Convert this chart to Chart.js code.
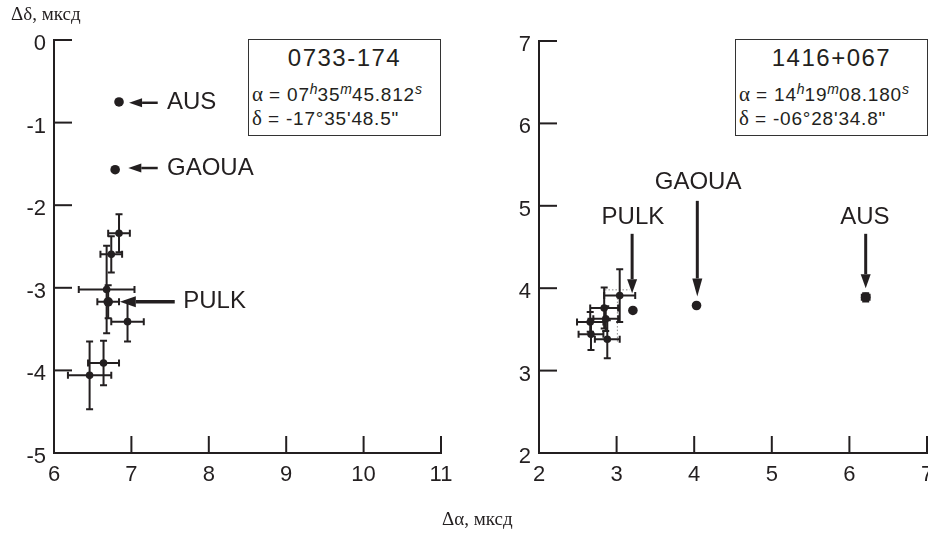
<!DOCTYPE html>
<html><head><meta charset="utf-8">
<script src="https://cdn.jsdelivr.net/npm/chart.js@4/dist/chart.umd.min.js"></script>
<style>
html,body{margin:0;padding:0;background:#fff}
body{width:928px;height:534px;overflow:hidden;position:relative;font-family:"Liberation Sans",Arial,sans-serif;color:#231f20}
canvas{position:absolute;top:0}
#c1{left:0}
#c2{left:464px}
.box{position:absolute;box-sizing:border-box;border:1px solid #333;background:#fff}
.box .t{position:absolute;left:0;right:0;top:5px;text-align:center;font-size:24px;line-height:26px;letter-spacing:1.5px}
.box .l{position:absolute;left:3px;font-size:19px;line-height:20px;white-space:nowrap;letter-spacing:0.8px}
.g{font-family:"Liberation Serif","DejaVu Serif",serif;font-size:21px;letter-spacing:0}
.box sup{font-style:italic;font-size:14px;vertical-align:7px;line-height:0;letter-spacing:0}
.ttl{position:absolute;font-family:"Liberation Serif","DejaVu Serif",serif;font-size:19px;white-space:nowrap}
</style>
</head><body>
<canvas id="c1" width="464" height="534"></canvas>
<canvas id="c2" width="480" height="534"></canvas>

<div class="box" style="left:248px;top:39px;width:193px;height:97px">
  <div class="t">0733-174</div>
  <div class="l" style="top:44px"><span class="g">α</span> = 07<sup>h</sup>35<sup>m</sup>45.812<sup>s</sup></div>
  <div class="l" style="top:68px"><span class="g">δ</span> = -17°35'48.5"</div>
</div>
<div class="box" style="left:735px;top:39px;width:193px;height:97px">
  <div class="t">1416+067</div>
  <div class="l" style="top:44px"><span class="g">α</span> = 14<sup>h</sup>19<sup>m</sup>08.180<sup>s</sup></div>
  <div class="l" style="top:68px"><span class="g">δ</span> = -06°28'34.8"</div>
</div>
<div class="ttl" style="left:11px;top:3px">Δδ, мксд</div>
<div class="ttl" style="left:442px;top:508px">Δα, мксд</div>

<script>
// ---- Left panel: 0733-174 ----
const leftXTicks = [6, 7, 8, 9, 10, 11];
const leftYTicks = [-5, -4, -3, -2, -1, 0];
const leftClusterX    = [6.84, 6.74, 6.68, 6.95, 6.64, 6.46];
const leftClusterY    = [-2.34, -2.595, -3.02, -3.41, -3.91, -4.06];
const leftClusterXErr = [0.14, 0.14, 0.36, 0.21, 0.20, 0.28];
const leftClusterYErr = [0.23, 0.22, 0.53, 0.24, 0.27, 0.41];
const leftStations    = ['AUS', 'GAOUA', 'PULK'];
const leftStationX    = [6.84, 6.79, 6.70];
const leftStationY    = [-0.75, -1.57, -3.17];
const leftStationXErr = [0, 0, 0.14];
const leftStationYErr = [0, 0, 0.20];
const leftArrowTail   = [[7.34, -0.76], [7.34, -1.55], [7.56, -3.17]];
const leftArrowTip    = [[6.97, -0.76], [6.96, -1.55], [6.85, -3.17]];
const leftLabelPos    = [[7.46, -0.76], [7.46, -1.55], [7.67, -3.17]];

// ---- Right panel: 1416+067 ----
const rightXTicks = [2, 3, 4, 5, 6, 7];
const rightYTicks = [2, 3, 4, 5, 6, 7];
const rightClusterX    = [3.04, 2.84, 2.86, 2.66, 2.67, 2.88];
const rightClusterY    = [3.91, 3.76, 3.63, 3.59, 3.44, 3.38];
const rightClusterXErr = [0.20, 0.18, 0.16, 0.17, 0.16, 0.16];
const rightClusterYErr = [0.32, 0.25, 0.15, 0.12, 0.19, 0.23];
const rightStations    = ['PULK', 'GAOUA', 'AUS'];
const rightStationX    = [3.21, 4.03, 6.21];
const rightStationY    = [3.73, 3.79, 3.89];
const rightStationXErr = [0, 0, 0.05];
const rightStationYErr = [0, 0, 0.05];
const rightArrowTail   = [[3.20, 4.66], [4.04, 5.06], [6.21, 4.66]];
const rightArrowTip    = [[3.20, 3.94], [4.04, 3.90], [6.21, 4.00]];
const rightLabelPos    = [[3.21, 4.86], [4.05, 5.28], [6.20, 4.86]];
const rightDottedX     = [2.85, 3.17];
const rightDottedY     = [3.98, 3.98];
const rightDotted2X    = [3.01, 3.01];
const rightDotted2Y    = [3.88, 3.35];

const INK = '#231f20';
const zip = (xs, ys) => xs.map((x, i) => ({x, y: ys[i]}));

const extraPlugin = {
  id: 'extra',
  afterDatasetsDraw(chart) {
    const o = chart.options.plugins.extra;
    const ctx = chart.ctx, xs = chart.scales.x, ys = chart.scales.y, ca = chart.chartArea;
    const X = v => xs.getPixelForValue(v), Y = v => ys.getPixelForValue(v);
    ctx.save();
    ctx.strokeStyle = INK; ctx.fillStyle = INK; ctx.lineCap = 'butt';
    ctx.lineWidth = 2;
    o.xTicks.forEach(t => { const p = X(t); ctx.beginPath(); ctx.moveTo(p, ca.bottom); ctx.lineTo(p, ca.bottom - 17); ctx.stroke(); });
    o.yTicks.forEach(t => { const p = Y(t); ctx.beginPath(); ctx.moveTo(ca.left, p); ctx.lineTo(ca.left + 18, p); ctx.stroke(); });
    o.errors.forEach(e => {
      e.x.forEach((xv, i) => {
        const px = X(xv), py = Y(e.y[i]);
        const dx = e.xe[i], dy = e.ye[i];
        ctx.lineWidth = 2;
        if (dx > 0) {
          const a = X(xv - dx), b = X(xv + dx);
          ctx.beginPath(); ctx.moveTo(a, py); ctx.lineTo(b, py);
          ctx.moveTo(a, py - 3.5); ctx.lineTo(a, py + 3.5);
          ctx.moveTo(b, py - 3.5); ctx.lineTo(b, py + 3.5); ctx.stroke();
        }
        if (dy > 0) {
          const a = Y(e.y[i] - dy), b = Y(e.y[i] + dy);
          ctx.beginPath(); ctx.moveTo(px, a); ctx.lineTo(px, b);
          ctx.moveTo(px - 3.5, a); ctx.lineTo(px + 3.5, a);
          ctx.moveTo(px - 3.5, b); ctx.lineTo(px + 3.5, b); ctx.stroke();
        }
      });
    });
    o.arrows.forEach(a => {
      const x1 = X(a.tail[0]), y1 = Y(a.tail[1]), x2 = X(a.tip[0]), y2 = Y(a.tip[1]);
      const ang = Math.atan2(y2 - y1, x2 - x1);
      const bx = x2 - a.head * Math.cos(ang), by = y2 - a.head * Math.sin(ang);
      ctx.lineWidth = a.w;
      ctx.beginPath(); ctx.moveTo(x1, y1); ctx.lineTo(bx, by); ctx.stroke();
      ctx.beginPath(); ctx.moveTo(x2, y2);
      ctx.lineTo(bx + a.hw * Math.sin(ang), by - a.hw * Math.cos(ang));
      ctx.lineTo(bx - a.hw * Math.sin(ang), by + a.hw * Math.cos(ang));
      ctx.closePath(); ctx.fill();
    });
    ctx.font = '24px "Liberation Sans", Arial, sans-serif';
    ctx.textBaseline = 'middle';
    o.labels.forEach(l => {
      ctx.textAlign = l.align;
      ctx.fillText(l.text, X(l.pos[0]), Y(l.pos[1]));
    });
    ctx.restore();
  }
};

function makeChart(id, cfg) {
  const datasets = [
    {data: zip(cfg.cx, cfg.cy), pointRadius: 3.8, backgroundColor: INK, borderColor: INK, borderWidth: 0},
    {data: zip(cfg.sx, cfg.sy), pointRadius: cfg.sr, backgroundColor: INK, borderColor: INK, borderWidth: 0}
  ];
  (cfg.dotted || []).forEach(d => datasets.push({
    type: 'line', data: zip(d[0], d[1]), showLine: true, borderColor: '#8a8a8a', borderWidth: 1,
    borderDash: [1.5, 2], pointRadius: 0, fill: false
  }));
  return new Chart(document.getElementById(id), {
    type: 'scatter',
    data: {datasets},
    options: {
      responsive: false, animation: false, devicePixelRatio: 1,
      layout: {padding: {top: cfg.top, right: cfg.right, left: 0, bottom: 0}},
      plugins: {
        legend: {display: false}, tooltip: {enabled: false},
        extra: {
          xTicks: cfg.xt, yTicks: cfg.yt,
          errors: [{x: cfg.cx, y: cfg.cy, xe: cfg.cxe, ye: cfg.cye}, {x: cfg.sx, y: cfg.sy, xe: cfg.sxe, ye: cfg.sye}],
          arrows: cfg.arrows, labels: cfg.labels
        }
      },
      scales: {
        x: {
          type: 'linear', min: cfg.xt[0], max: cfg.xt[cfg.xt.length - 1],
          afterBuildTicks: s => { s.ticks = cfg.xt.map(v => ({value: v})); },
          afterFit: s => { s.height = 81; },
          grid: {display: false, drawTicks: false},
          border: {display: true, color: INK, width: 2},
          ticks: {color: INK, padding: 9, maxRotation: 0, autoSkip: false, font: {family: '"Liberation Sans", Arial, sans-serif', size: 22}}
        },
        y: {
          type: 'linear', min: cfg.yt[0], max: cfg.yt[cfg.yt.length - 1],
          afterBuildTicks: s => { s.ticks = cfg.yt.map(v => ({value: v})); },
          afterFit: s => { s.width = cfg.yw; },
          grid: {display: false, drawTicks: false},
          border: {display: true, color: INK, width: 2},
          ticks: {color: INK, padding: 8, labelOffset: 4, autoSkip: false, font: {family: '"Liberation Sans", Arial, sans-serif', size: 22}}
        }
      }
    },
    plugins: [extraPlugin]
  });
}

makeChart('c1', {
  top: 40, right: 23, yw: 54, xt: leftXTicks, yt: leftYTicks,
  cx: leftClusterX, cy: leftClusterY, cxe: leftClusterXErr, cye: leftClusterYErr,
  sx: leftStationX, sy: leftStationY, sxe: leftStationXErr, sye: leftStationYErr, sr: 4.8,
  arrows: leftStations.map((s, i) => ({tail: leftArrowTail[i], tip: leftArrowTip[i], w: s === 'PULK' ? 3.5 : 2.5, head: s === 'PULK' ? 16 : 13, hw: s === 'PULK' ? 5.5 : 4.5})),
  labels: leftStations.map((s, i) => ({text: s, pos: leftLabelPos[i], align: 'left'}))
});
makeChart('c2', {
  top: 41, right: 17, yw: 75, xt: rightXTicks, yt: rightYTicks,
  cx: rightClusterX, cy: rightClusterY, cxe: rightClusterXErr, cye: rightClusterYErr,
  sx: rightStationX, sy: rightStationY, sxe: rightStationXErr, sye: rightStationYErr, sr: 4.8,
  dotted: [[rightDottedX, rightDottedY], [rightDotted2X, rightDotted2Y]],
  arrows: rightStations.map((s, i) => ({tail: rightArrowTail[i], tip: rightArrowTip[i], w: 3, head: s === 'GAOUA' ? 18 : 14, hw: 5})),
  labels: rightStations.map((s, i) => ({text: s, pos: rightLabelPos[i], align: 'center'}))
});
</script>
</body></html>
